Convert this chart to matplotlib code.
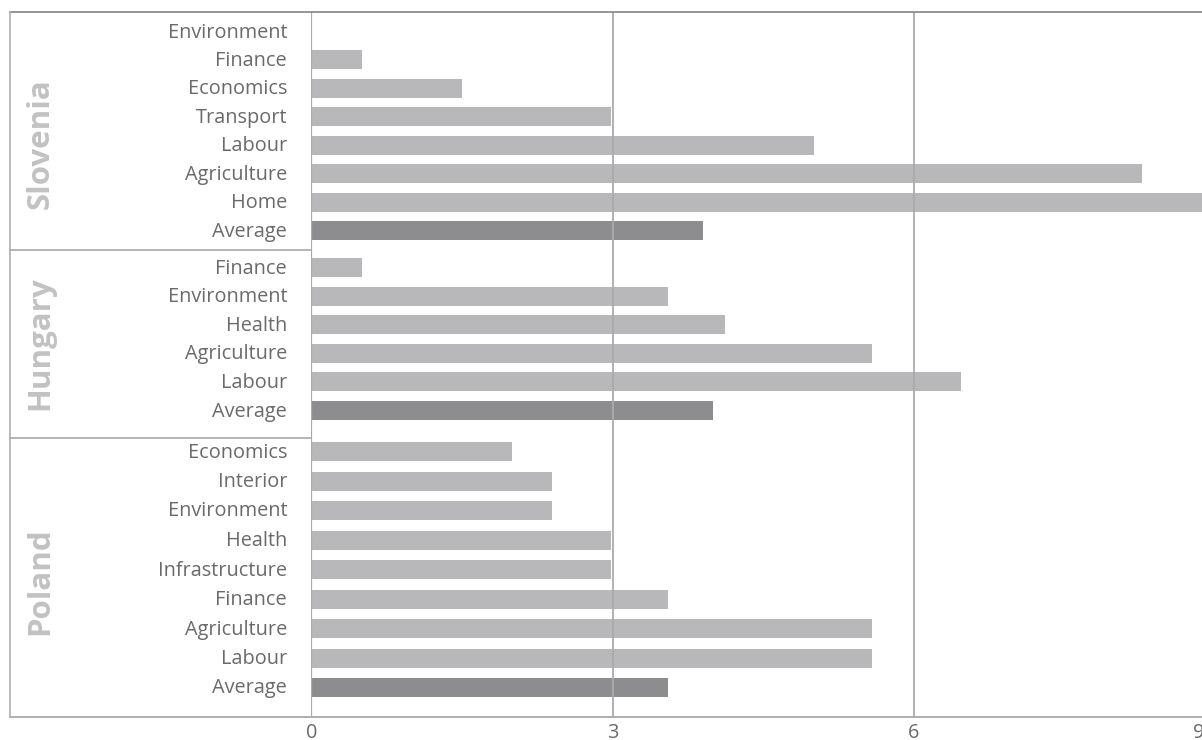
import matplotlib
matplotlib.use("Agg")
import matplotlib.pyplot as plt
from matplotlib.lines import Line2D

# ---------------- data ----------------
groups = ["Slovenia", "Hungary", "Poland"]
slovenia_cats = ["Environment", "Finance", "Economics", "Transport", "Labour",
                 "Agriculture", "Home", "Average"]
slovenia_vals = [0.0, 0.5, 1.5, 2.98, 5.0, 8.27, 9.0, 3.9]
hungary_cats = ["Finance", "Environment", "Health", "Agriculture", "Labour", "Average"]
hungary_vals = [0.5, 3.55, 4.12, 5.58, 6.47, 4.0]
poland_cats = ["Economics", "Interior", "Environment", "Health", "Infrastructure",
               "Finance", "Agriculture", "Labour", "Average"]
poland_vals = [2.0, 2.4, 2.4, 2.98, 2.98, 3.55, 5.58, 5.58, 3.55]
x_ticks = [0, 3, 6, 9]

# ---------------- layout (pixel space of the 1202x740 figure) ----------------
W, H = 1202, 740
TOP, BOTTOM = 12.3, 716.7
X0, PX_PER_UNIT = 311.3, 100.45
group_start = [31.5, 267.5, 451.5]      # centre of first row in each group
group_pitch = [28.45, 28.6, 29.5]       # row spacing in each group
group_bounds = [TOP, 250.3, 438.0, BOTTOM]
group_label_y = [143.5, 343.5, 581.0]
BAR_H = 19

BAR = "#b8b8ba"
AVG = "#8d8d8f"
GRID = "#ababab"
TXT = "#6a6a6a"
GLBL = "#c2c2c2"

fig = plt.figure(figsize=(W / 100, H / 100), dpi=100)
right_px = X0 + 9 * PX_PER_UNIT
ax = fig.add_axes([X0 / W, 1 - BOTTOM / H, (right_px - X0) / W, (BOTTOM - TOP) / H])
ax.set_xlim(0, 9)
ax.set_ylim(BOTTOM, TOP)

data = [(slovenia_cats, slovenia_vals), (hungary_cats, hungary_vals), (poland_cats, poland_vals)]
font = ["Open Sans", "DejaVu Sans"]
for gi, (cats, vals) in enumerate(data):
    ys = [group_start[gi] + k * group_pitch[gi] for k in range(len(cats))]
    colors = [AVG if c == "Average" else BAR for c in cats]
    ax.barh(ys, vals, height=BAR_H, color=colors, zorder=1, linewidth=0)
    for y, c in zip(ys, cats):
        fig.text(287 / W, 1 - (y + 1.0) / H, c, ha="right", va="center", fontsize=14.3,
                 color=TXT, family=font)
    fig.text(40.5 / W, 1 - group_label_y[gi] / H, groups[gi], rotation=90,
             ha="center", va="center", fontsize=22.5, fontweight="bold",
             color=GLBL, family=font)

# gridlines
for t in x_ticks:
    ax.axvline(t, color=GRID, lw=1.6 if t == 0 else 1.3, zorder=3)

for s in ax.spines.values():
    s.set_visible(False)
ax.set_xticks([])
ax.set_yticks([])

# tick labels (last one is pushed inside the figure, as in the original)
for t in x_ticks:
    xp = (X0 + t * PX_PER_UNIT)
    if xp + 6 > W:
        fig.text(1193 / W, 1 - 733 / H, str(t), ha="left", va="center",
                 fontsize=14.3, color=TXT, family=font)
    else:
        fig.text(xp / W, 1 - 733 / H, str(t), ha="center", va="center",
                 fontsize=14.3, color=TXT, family=font)

# frame lines
def hline(y, x1, x2, c, lw):
    fig.add_artist(Line2D([x1 / W, x2 / W], [1 - y / H, 1 - y / H], color=c, lw=lw))

hline(TOP, 10, W, "#8e8e8e", 1.3)
hline(BOTTOM, 10, W, "#a8a8a8", 1.3)
for b in group_bounds[1:-1]:
    hline(b, 10, X0, "#a8a8a8", 1.2)
fig.add_artist(Line2D([10 / W, 10 / W], [1 - TOP / H, 1 - BOTTOM / H], color="#b0b0b0", lw=1.2))

fig.savefig("out.png", dpi=100)
